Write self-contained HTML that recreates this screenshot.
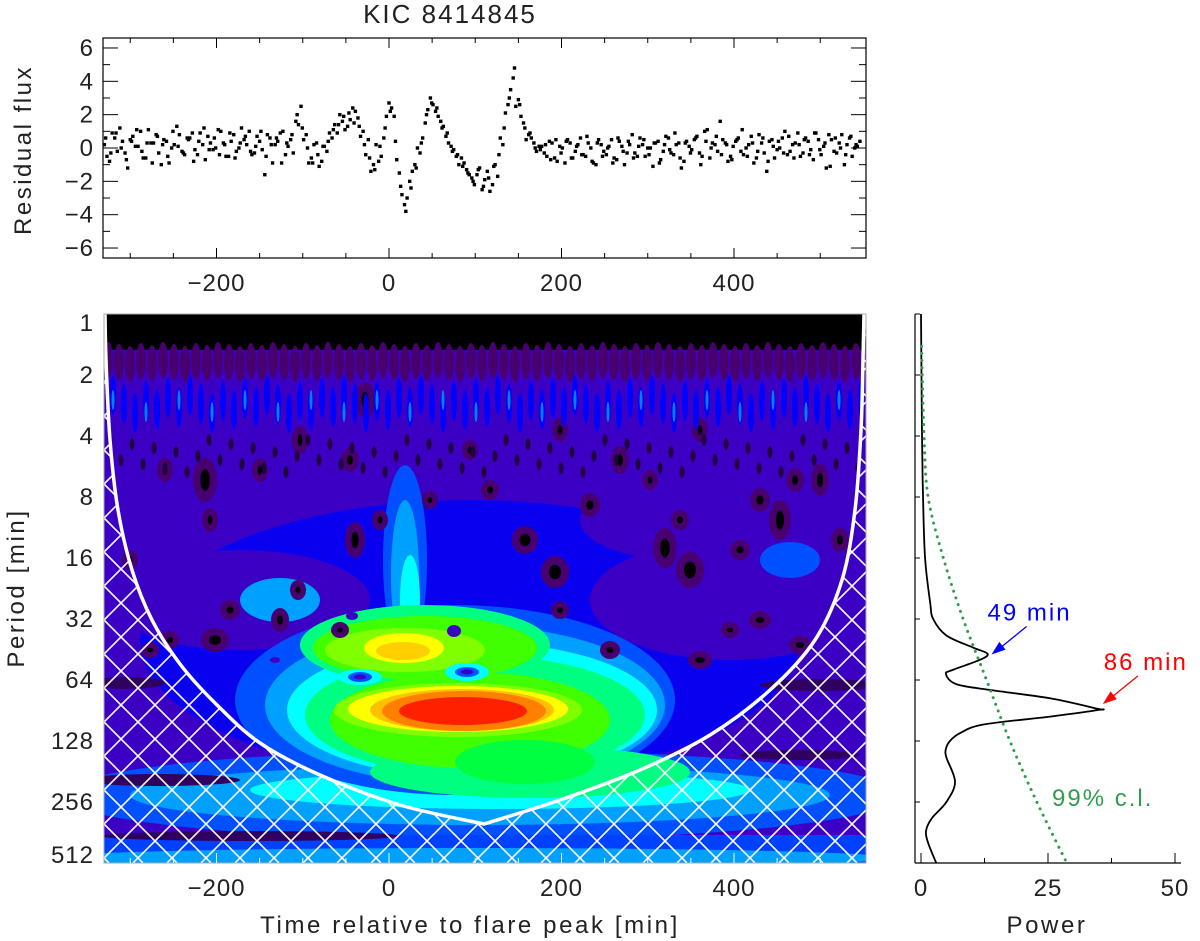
<!DOCTYPE html>
<html><head><meta charset="utf-8">
<style>
html,body{margin:0;padding:0;background:#fff;}
svg{display:block;font-family:"Liberation Sans",sans-serif;}
</style></head>
<body>
<svg id="fig" width="1200" height="941" viewBox="0 0 1200 941" xmlns="http://www.w3.org/2000/svg">
<defs>
  <clipPath id="wclip"><rect x="104" y="314" width="762" height="549"/></clipPath>
  <pattern id="hatch" patternUnits="userSpaceOnUse" width="34" height="34" x="104" y="314">
    <path d="M0,0 L34,34 M34,0 L0,34" stroke="#fff" stroke-width="1.6"/>
  </pattern>
</defs>
<text x="450" y="23" font-size="26" letter-spacing="2" text-anchor="middle" fill="#222">KIC 8414845</text>
<g id="topPanel"></g>
<g id="wave" clip-path="url(#wclip)"></g>
<g id="waveaxes"></g>
<g id="power"></g>
</svg>
<script>
// ---------- data ----------
const fluxStart = -330, fluxStep = 6;
const fluxValues = [0.2,-0.8,0.6,1.2,-0.3,0.5,0.1,1.0,-0.6,0.3,0.8,-1.0,0.4,0.0,1.3,-0.2,0.6,0.9,-0.4,0.2,0.7,-0.1,1.1,0.3,-0.5,0.8,0.0,0.5,1.0,-0.3,0.4,-1.6,0.6,0.2,0.9,-0.4,0.5,
1.6,2.5,0.8,-0.6,0.3,-0.8,-0.2,0.6,0.9,1.6,1.3,2.4,1.8,1.0,0.5,-1.0,-0.8,0.6,2.7,1.9,-1.5,-3.4,-2.0,-1.0,-0.3,1.5,3.0,2.2,1.6,0.7,0.1,-0.5,-0.6,-1.3,-1.8,-1.6,-2.5,-1.4,-2.2,-1.7,0.2,2.6,4.2,2.9,1.5,0.8,0.3,0.1,
-0.3,0.4,-0.6,0.1,-0.9,0.3,-0.2,0.6,-0.5,0.0,-1.0,0.2,-0.4,0.5,-0.7,0.1,-0.3,0.8,-0.5,0.2,0.0,-1.1,0.4,-0.2,0.6,-0.4,0.3,-0.8,0.1,0.5,-0.3,1.0,-0.6,0.2,1.6,0.3,-0.5,0.4,-0.2,0.0,0.7,-0.6,0.3,-1.4,0.5,-0.1,0.6,-0.4,0.2,0.9,-0.3,0.4,-0.7,0.5,0.1,0.8,-0.2,0.3,-1.0,0.6,0.0,0.4];
const fluxValues2 = [-0.5,0.9,-0.2,0.4,-1.2,0.7,0.1,-0.6,1.1,0.3,-0.3,0.5,-0.9,0.2,0.8,-0.4,0.6,-0.1,0.9,-0.7,0.3,0.0,1.0,-0.5,0.4,-0.2,1.2,0.2,-0.4,0.7,
-0.1,0.8,-0.9,0.4,1.0,0.1,-0.3,1.4,0.5,-0.9,0.2,-1.1,0.1,0.9,1.4,2.0,1.1,1.7,2.2,0.7,-0.4,-1.4,0.2,-0.5,1.9,2.4,-0.7,-2.8,-3.0,-1.4,0.0,0.6,2.3,2.6,1.9,1.3,0.3,-0.1,-1.0,-0.9,-1.6,-2.2,-1.2,-1.9,-2.6,-1.0,0.6,2.1,3.5,2.5,1.9,0.5,0.6,-0.2,
0.1,-0.5,0.3,-0.8,0.0,0.5,-0.6,0.2,-0.4,0.3,-0.9,0.5,-0.2,0.1,-0.6,0.4,-1.0,0.2,-0.3,0.6,-0.5,0.0,0.3,-0.7,0.7,-0.3,0.2,-1.2,0.4,-0.1,0.7,-0.5,1.1,0.3,-0.2,0.5,-0.8,0.1,0.6,-0.4,0.2,-0.9,0.8,-0.3,0.4,-0.6,0.0,1.0,-0.2,0.3,-0.5,0.6,-0.1,0.9,-0.4,-1.2,0.5,-0.3,0.8,0.2,-0.5,0.1];
const fluxValues3 = [0.6,-0.3,0.9,0.0,-0.7,0.4,1.1,-0.2,0.3,-0.9,0.7,0.2,-0.5,1.0,0.1,-0.3,0.5,-0.8,0.4,1.2,-0.1,0.6,-0.4,0.2,0.9,-0.6,0.3,0.7,-0.2,0.1,1.0,-0.5,0.2,0.6,-0.9,0.3,0.8,
2.0,1.2,0.0,-0.9,-0.4,0.1,0.4,1.1,1.4,1.9,2.1,1.5,1.3,0.2,-0.6,-1.3,0.1,1.2,2.2,0.4,-2.3,-3.8,-2.4,-1.2,0.3,2.0,2.7,2.4,1.2,0.9,-0.2,-0.4,-1.1,-1.5,-2.0,-1.3,-2.3,-1.8,-1.1,-0.4,1.2,3.0,4.8,2.6,1.2,0.9,0.0,-0.1,
0.2,-0.7,0.5,-0.3,0.4,-0.6,0.1,-0.4,0.7,-0.8,0.3,-0.5,0.0,-0.9,0.6,-0.2,0.4,-0.6,0.1,0.5,-0.4,0.3,-0.9,0.2,-0.1,0.9,-0.6,0.3,-0.3,0.6,-1.0,0.4,0.0,0.7,-0.4,0.2,-0.7,0.5,1.1,-0.5,0.3,-0.2,0.6,-0.8,0.1,0.4,-0.3,0.7,-0.6,0.2,0.5,-0.4,0.9,-0.1,0.3,-1.1,0.6,0.0,-0.4,0.7,0.2];
const fluxTicksX = [-200,0,200,400];
const fluxTicksY = [-6,-4,-2,0,2,4,6];
const periodTicks = [1,2,4,8,16,32,64,128,256,512];
const powerLog2Period = [0,2,3,4,4.73,5.0,5.27,5.47,5.57,5.67,5.83,5.9,6.07,6.17,6.3,6.47,6.49,6.6,6.73,6.87,7.0,7.13,7.27,7.67,8.0,8.27,8.47,8.67,9.0];
const powerValues = [0,0.2,0.4,0.8,1.8,2.4,5.0,10.3,13.1,11.6,6.4,4.9,7.0,14.2,25.4,34.6,35.0,25.4,12.3,7.7,5.7,4.9,5.0,6.7,5.0,2.1,1.0,1.4,3.0];
const confLog2Period = [0.53,2,3,4,5,6,7,8,9];
const confValues = [0.1,0.6,1.4,4.4,8.3,12.9,17.5,22.8,28.7];
const peakPeriods = [49,86];

const NS="http://www.w3.org/2000/svg";
function mk(parent,tag,attrs,text){const e=document.createElementNS(NS,tag);for(const k in attrs)e.setAttribute(k,attrs[k]);if(text!==undefined)e.textContent=text;parent.appendChild(e);return e;}
function smooth(pts){let d='M'+pts[0][0]+','+pts[0][1];
  for(let i=0;i<pts.length-1;i++){const p0=pts[i-1]||pts[i],p1=pts[i],p2=pts[i+1],p3=pts[i+2]||p2;
    d+=' C'+(p1[0]+(p2[0]-p0[0])/6)+','+(p1[1]+(p2[1]-p0[1])/6)+' '+(p2[0]-(p3[0]-p1[0])/6)+','+(p2[1]-(p3[1]-p1[1])/6)+' '+p2[0]+','+p2[1];}
  return d;}
const LBL={'font-size':24,'letter-spacing':1,fill:'#222'};
function txt(parent,attrs,s){return mk(parent,'text',Object.assign({},LBL,attrs),s);}

// ---------- top panel ----------
const T={x0:103,x1:866,y0:38,y1:258};
const tx=t=>389+(t)*0.8625;
const ty=v=>148-v*16.67;
const topG=document.getElementById('topPanel');
let frameR=mk(topG,'rect',{x:T.x0,y:T.y0,width:T.x1-T.x0,height:T.y1-T.y0,fill:'none',stroke:'#000','stroke-width':1.2});

function drawFlux(arr,offset){
  arr.forEach((v,i)=>{
    const t=fluxStart+offset+i*fluxStep;
    if(t>548)return;
    const p=mk(topG,'rect',{x:tx(t)-1.7,y:ty(v)-1.7,width:3.4,height:3.4,fill:'#000'});
    
    
  });
}
drawFlux(fluxValues,0);drawFlux(fluxValues2,3);drawFlux(fluxValues3,1.5);
for(let t=-300;t<=540;t+=50){const big=t%200===0;const x=tx(t);
  mk(topG,'line',{x1:x,y1:T.y1,x2:x,y2:T.y1-(big?10:5),stroke:'#000'});
  mk(topG,'line',{x1:x,y1:T.y0,x2:x,y2:T.y0+(big?10:5),stroke:'#000'});}
fluxTicksX.forEach(t=>{const l=txt(topG,{x:tx(t),y:291,'text-anchor':'middle'},String(t).replace('-','\u2212'));
  });
for(let v=-6;v<=6;v+=1){const big=v%2===0;const y=ty(v);
  mk(topG,'line',{x1:T.x0,y1:y,x2:T.x0+(big?15:7),y2:y,stroke:'#000'});
  mk(topG,'line',{x1:T.x1,y1:y,x2:T.x1-(big?15:7),y2:y,stroke:'#000'});}
fluxTicksY.forEach(v=>{const l=txt(topG,{x:94,y:ty(v)+8,'text-anchor':'end'},String(v).replace('-','\u2212'));
  });
let yl=txt(topG,{x:0,y:0,'text-anchor':'middle','letter-spacing':2.5,transform:'translate(31,150) rotate(-90)'},'Residual flux');


// ---------- wavelet ----------
const W={x0:104,x1:866,y0:314,y1:863};
const wy=l2=>W.y0+l2*61;
const wave=document.getElementById('wave');
const E=(cx,cy,rx,ry,f)=>mk(wave,'ellipse',{cx:cx,cy:cy,rx:rx,ry:ry,fill:f});
mk(wave,'rect',{x:W.x0,y:W.y0,width:762,height:549,fill:'#3c00c4'});
E(470,640,330,140,'#0a00f0');
E(240,600,130,50,'#3c00c4');E(730,600,140,60,'#3c00c4');E(680,520,100,40,'#3c00c4');
E(790,560,30,18,'#0050ff');
E(480,795,420,45,'#0050ff');
E(480,795,350,30,'#00a0ff');
E(500,790,250,19,'#00ffff');
mk(wave,'rect',{x:104,y:835,width:762,height:30,fill:'#0040ff'});
E(470,858,420,10,'#00a0ff');
E(250,836,150,5,'#300060');E(160,780,80,6,'#300060');E(820,685,60,6,'#300060');E(125,683,40,6,'#300060');E(800,755,60,5,'#300060');
// main region
E(455,700,220,95,'#0050ff');
E(280,600,40,22,'#00a0ff');
E(405,560,22,95,'#0050ff');
E(465,705,200,80,'#00a0ff');
E(405,575,14,75,'#00a0ff');
E(472,710,185,68,'#00ffff');
E(410,600,10,45,'#00ffff');
E(425,645,125,40,'#00ff80');
E(475,715,170,60,'#00ff80');
E(530,772,160,26,'#00ff80');
E(425,648,112,32,'#40ff00');
E(470,720,140,48,'#40ff00');
E(525,762,70,22,'#00ff40');
E(405,650,80,22,'#80ff00');
E(458,710,124,27,'#80ff00');
E(404,648,40,15,'#ffff00');
E(403,651,27,9,'#ffd000');
E(458,709,110,23,'#ffff00');
E(462,710,92,21,'#ffc000');
E(464,711,82,20,'#ff8000');
E(463,711,64,14,'#ff2000');
E(360,677,22,8,'#00ffff');E(360,677,12,5,'#0050ff');E(360,677,6,2.5,'#3c00c4');
E(467,672,22,9,'#00ffff');E(467,672,12,5,'#0050ff');E(467,672,6,2.5,'#3c00c4');
E(454,631,7,6,'#3c00c4');E(352,616,6,4,'#3c00c4');E(275,660,5,3,'#3c00c4');
const blobs=[[205,480,8,18],[210,520,4,8],[230,610,6,6],[170,640,5,5],[215,640,10,8],[150,650,5,4],[280,620,5,8],[298,590,4,6],[365,400,6,14],[350,460,5,8],[355,540,6,14],[380,520,4,6],[340,630,5,4],[430,500,4,5],[470,450,4,6],[490,490,5,6],[525,540,9,10],[555,572,10,12],[560,610,5,5],[590,505,6,8],[620,460,5,10],[650,480,4,6],[665,548,8,16],[690,570,10,14],[730,630,5,4],[760,500,6,8],[780,520,7,16],[795,480,5,8],[740,550,6,6],[820,480,5,12],[840,540,5,8],[700,660,8,5],[760,620,7,5],[800,645,7,5],[130,560,4,6],[165,470,4,8],[260,470,4,8],[300,440,4,10],[560,430,4,8],[700,430,4,8],[610,650,6,5],[680,520,5,6]];
blobs.forEach(b=>{E(b[0],b[1],b[2]+4,b[3]+4,'#480070');E(b[0],b[1],b[2]*0.6,b[3]*0.6,'#000');});
mk(wave,'rect',{x:104,y:314,width:762,height:36,fill:'#000'});
for(let k=0;k<70;k++){const x=108+k*11;const h=(k*7)%5;
  E(x,360+h,5,18,'#480070');
  E(x+5,395+((k*3)%7)*3,3,20,'#0000ff');
  if(k%3===0)E(x+5,400+((k*5)%6)*4,1.5,10,'#0080ff');
  E(x+2,440+((k*5)%9)*4,2.5,6,'#200040');
}
const coiL=[[105,314],[106,360],[110,440],[118,510],[132,570],[152,620],[180,664],[215,703],[260,743],[320,775],[400,805],[484,824]];
const coiR=[[484,824],[560,800],[640,770],[710,735],[770,690],[815,640],[842,580],[855,510],[861,430],[863,360],[864,314]];
const coiD=smooth(coiL)+' L'+smooth(coiR).slice(1);
mk(wave,'path',{d:'M104,314 L866,314 L866,863 L104,863 Z '+coiD+' Z','fill-rule':'evenodd',fill:'url(#hatch)'});
const cl=mk(wave,'path',{d:coiD,fill:'none',stroke:'#fff','stroke-width':3.5});

const wa=document.getElementById('waveaxes');
mk(wa,'rect',{x:W.x0,y:W.y0,width:762,height:549,fill:'none',stroke:'#aaa','stroke-width':1});
for(let t=-300;t<=540;t+=50){const big=t%200===0;const x=tx(t);
  mk(wa,'line',{x1:x,y1:W.y1,x2:x,y2:W.y1-(big?10:5),stroke:'#fff'});}
fluxTicksX.forEach(t=>{const l=txt(wa,{x:tx(t),y:896,'text-anchor':'middle'},String(t).replace('-','\u2212'));
  });
periodTicks.forEach(p=>{const l2=Math.log2(p);let y=wy(l2)+8;if(p===1)y=331;if(p===512)y=863;
  const l=txt(wa,{x:94,y:y,'text-anchor':'end'},String(p));
  });
let xt=txt(wa,{x:470,y:933,'text-anchor':'middle','letter-spacing':2.6},'Time relative to flare peak [min]');

let pt=txt(wa,{x:0,y:0,'text-anchor':'middle','letter-spacing':2.6,transform:'translate(24,588) rotate(-90)'},'Period [min]');


// ---------- global power ----------
const P={x0:915,x1:1181};
const px=v=>921+v*5.08;
const pw=document.getElementById('power');
mk(pw,'line',{x1:P.x0,y1:W.y0,x2:P.x0,y2:W.y1,stroke:'#000','stroke-width':1.2});
mk(pw,'line',{x1:P.x0,y1:W.y1,x2:P.x1,y2:W.y1,stroke:'#000','stroke-width':1.2});
for(let k=0;k<=9;k++){mk(pw,'line',{x1:P.x0,y1:wy(k),x2:P.x0+5,y2:wy(k),stroke:'#000'});}
for(let v=0;v<=50;v+=12.5){mk(pw,'line',{x1:px(v),y1:W.y1,x2:px(v),y2:W.y1-(v%25===0?10:5),stroke:'#000'});}
[0,25,50].forEach(v=>{const l=txt(pw,{x:px(v),y:896,'text-anchor':'middle'},String(v));
  });
let pwt=txt(pw,{x:1047,y:933,'text-anchor':'middle','letter-spacing':2.6},'Power');

const gp=mk(pw,'path',{d:smooth(powerValues.map((v,i)=>[px(v),wy(powerLog2Period[i])])),fill:'none',stroke:'#000','stroke-width':1.8});

const cf=mk(pw,'path',{d:smooth(confValues.map((v,i)=>[px(v),wy(confLog2Period[i])])),fill:'none',stroke:'#2e9e4e','stroke-width':3,'stroke-dasharray':'0.1 7','stroke-linecap':'round'});

const lbl=txt(pw,{x:1052,y:806,fill:'#2e9e4e','letter-spacing':2},'99% c.l.');

const peakColors=['#0000ff','#ff0000'];
const peakPower=[13.1,35.0];
peakPeriods.forEach((p,i)=>{
  const ax=px(peakPower[i])+4, ay=wy(Math.log2(p))-2;
  const sx=ax+35, sy=ay-28;
  const a=mk(pw,'line',{x1:sx,y1:sy,x2:ax+8,y2:ay-6,stroke:peakColors[i],'stroke-width':1.3});
  
  const ang=Math.atan2(ay-sy,ax-sx);
  const h=14,w=5;const bx=ax-h*Math.cos(ang),by=ay-h*Math.sin(ang);
  mk(pw,'polygon',{points:ax+','+ay+' '+(bx-w*Math.sin(ang))+','+(by+w*Math.cos(ang))+' '+(bx+w*Math.sin(ang))+','+(by-w*Math.cos(ang)),fill:peakColors[i]});
  const t=txt(pw,{x:sx+(i?8:3),y:sy-6,'text-anchor':'middle',fill:peakColors[i],'letter-spacing':2},p+' min');
  
});
</script>
</body></html>
